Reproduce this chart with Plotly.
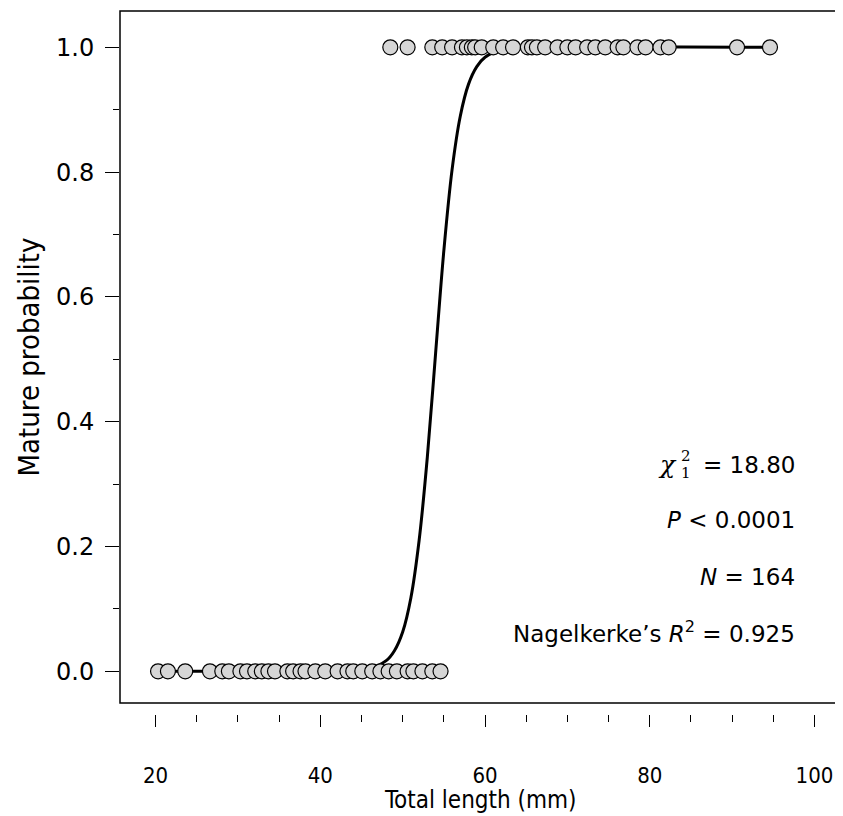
import plotly.graph_objects as go

# Observed lengths (mm) of immature (0) and mature (1) individuals
immature_len = [20.3, 21.5, 23.6, 26.6, 28.1, 28.9, 30.3, 31.1, 32.1, 32.9, 33.7, 34.5,
                36.0, 36.7, 37.6, 38.2, 39.4, 40.6, 42.1, 43.3, 44.0, 45.1, 46.3, 47.3,
                48.3, 49.3, 50.6, 51.3, 52.4, 53.6, 54.6]
mature_len = [48.5, 50.6, 53.6, 54.8, 56.0, 57.2, 57.8, 58.4, 58.8, 59.6, 61.0, 62.2,
              63.4, 65.2, 65.7, 66.3, 67.3, 68.8, 70.0, 71.0, 72.4, 73.4, 74.6, 76.1,
              76.8, 78.5, 79.5, 81.3, 82.3, 90.6, 94.6]
immature_val = [0.0] * len(immature_len)
mature_val = [1.0] * len(mature_len)

# Fitted logistic curve
curve_x = [20.3, 40.0, 44.0, 46.0, 48.0, 49.0, 50.0, 51.0, 52.0, 53.0, 54.0, 55.0,
           56.0, 57.0, 58.0, 59.0, 60.0, 62.0, 65.0, 94.6]
curve_p = [0.0, 0.0001, 0.0012, 0.0045, 0.017, 0.033, 0.063, 0.118, 0.210, 0.344, 0.510,
           0.674, 0.804, 0.890, 0.941, 0.969, 0.984, 0.996, 0.9995, 1.0]

stat_lines = ["= 18.80", "<i>P</i> < 0.0001", "<i>N</i> = 164",
              "Nagelkerke’s <i>R</i><sup>2</sup> = 0.925"]
stat_y = [0.331, 0.2425, 0.151, 0.063]

x_ticks = [20, 40, 60, 80, 100]
y_ticks = [0.0, 0.2, 0.4, 0.6, 0.8, 1.0]

fig = go.Figure()
fig.add_trace(go.Scatter(x=curve_x, y=curve_p, mode="lines", line_shape="spline",
                         line=dict(color="black", width=3), hoverinfo="skip"))
marker = dict(size=15, color="#d6d6d6", line=dict(color="black", width=1.2))
fig.add_trace(go.Scatter(x=immature_len, y=immature_val, mode="markers", marker=marker))
fig.add_trace(go.Scatter(x=mature_len, y=mature_val, mode="markers", marker=marker))

ann_font = dict(family="DejaVu Sans", size=23, color="black")
for txt, yy in zip(stat_lines, stat_y):
    fig.add_annotation(text=txt, xref="paper", yref="y", x=0.940, y=yy,
                       xanchor="right", yanchor="middle", showarrow=False, font=ann_font)
# chi-square symbol with stacked super/subscript
chi_shift = -118
fig.add_annotation(text="<i>χ</i>", xref="paper", yref="y", x=0.940, y=stat_y[0],
                   xanchor="right", yanchor="middle", showarrow=False, xshift=chi_shift,
                   font=dict(family="DejaVu Serif", size=25, color="black"))
fig.add_annotation(text="2", xref="paper", yref="y", x=0.940, y=stat_y[0],
                   xanchor="left", yanchor="middle", showarrow=False, xshift=chi_shift,
                   yshift=9, font=dict(family="DejaVu Serif", size=15, color="black"))
fig.add_annotation(text="1", xref="paper", yref="y", x=0.940, y=stat_y[0],
                   xanchor="left", yanchor="middle", showarrow=False, xshift=chi_shift,
                   yshift=-8, font=dict(family="DejaVu Serif", size=15, color="black"))

fig.add_annotation(text="Total length (mm)", xref="paper", yref="paper", x=0.5, y=-0.122,
                   xanchor="center", yanchor="middle", showarrow=False, borderpad=0,
                   font=dict(family="DejaVu Sans Condensed", size=24, color="black"))

fig.add_shape(type="rect", xref="x domain", yref="y domain", x0=0, x1=1, y0=0, y1=1,
              line=dict(color="black", width=1.5))

fig.update_layout(
    width=835, height=808,
    margin=dict(l=112, r=3, t=3, b=102, autoexpand=False),
    paper_bgcolor="white", plot_bgcolor="white",
    showlegend=False,
    xaxis=dict(range=[15.68, 103.1], anchor="free", position=0, automargin=False,
               tickvals=x_ticks, ticks="outside", ticklen=12, tickwidth=1.3,
               tickcolor="black", showline=False, showgrid=False, zeroline=False,
               ticklabelstandoff=30,
               minor=dict(dtick=5, tick0=0, ticks="outside", ticklen=7, tickwidth=1.3,
                          tickcolor="black", showgrid=False),
               tickfont=dict(family="DejaVu Sans Condensed", size=22, color="black")),
    yaxis=dict(range=[-0.0508, 1.0582], domain=[0.01565, 1], automargin=False,
               tickvals=y_ticks, tickformat=".1f", ticks="outside", ticklen=14,
               tickwidth=1.3, tickcolor="black", showline=False, showgrid=False,
               zeroline=False, ticklabelstandoff=6,
               minor=dict(dtick=0.1, tick0=0, ticks="outside", ticklen=6, tickwidth=1.3,
                          tickcolor="black", showgrid=False),
               tickfont=dict(family="DejaVu Sans", size=24, color="black"),
               title=dict(text="Mature probability", standoff=7,
                          font=dict(family="DejaVu Sans Condensed", size=29,
                                    color="black"))),
)

fig.write_html("out.html")
